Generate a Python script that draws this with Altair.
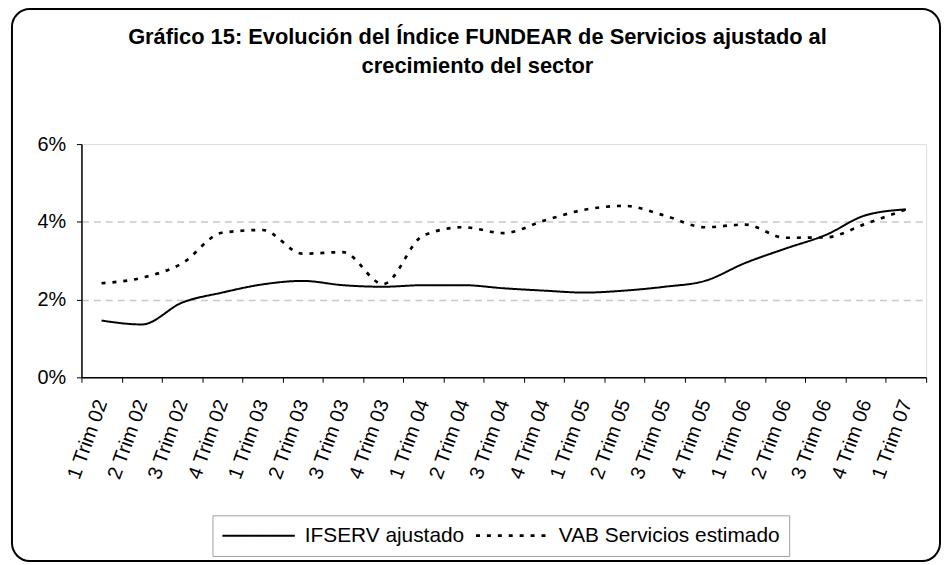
import altair as alt
import pandas as pd

categories = ["1 Trim 02", "2 Trim 02", "3 Trim 02", "4 Trim 02",
              "1 Trim 03", "2 Trim 03", "3 Trim 03", "4 Trim 03",
              "1 Trim 04", "2 Trim 04", "3 Trim 04", "4 Trim 04",
              "1 Trim 05", "2 Trim 05", "3 Trim 05", "4 Trim 05",
              "1 Trim 06", "2 Trim 06", "3 Trim 06", "4 Trim 06",
              "1 Trim 07"]
ifserv = [1.46, 1.36, 1.92, 2.18, 2.39, 2.48, 2.37, 2.33, 2.37, 2.37, 2.29,
          2.23, 2.18, 2.23, 2.33, 2.48, 2.94, 3.31, 3.66, 4.17, 4.32]
vab = [2.42, 2.56, 2.93, 3.72, 3.79, 3.18, 3.22, 2.40, 3.65, 3.86, 3.71,
       4.03, 4.31, 4.41, 4.16, 3.86, 3.93, 3.59, 3.60, 3.95, 4.32]
series_names = ["IFSERV ajustado", "VAB Servicios estimado"]
y_ticks = [0, 2, 4, 6]
title_lines = ["Gráfico 15: Evolución del Índice FUNDEAR de Servicios ajustado al",
               "crecimiento del sector"]

rows = []
for name, vals in zip(series_names, [ifserv, vab]):
    for c, v in zip(categories, vals):
        rows.append({"Trimestre": c, "Serie": name, "Valor": v})
df = pd.DataFrame(rows)

frame_df = pd.DataFrame({"f": [0]})

FONT = "Liberation Sans"

frame = alt.Chart(frame_df).mark_rect(
    filled=False, stroke="black", strokeWidth=2, cornerRadius=18
).encode(
    x=alt.value(-70), x2=alt.value(865), y=alt.value(-136), y2=alt.value(420)
)

lines = alt.Chart(df).mark_line(interpolate="monotone", color="black").encode(
    x=alt.X("Trimestre:N", sort=categories,
            scale=alt.Scale(type="band", paddingInner=0, paddingOuter=0),
            axis=alt.Axis(title=None, tickBand="extent", labelAngle=290,
                          labelAlign="right", labelBaseline="middle",
                          labelPadding=18, labelFontSize=20, labelFont=FONT,
                          labelColor="black", labelOverlap=False,
                          tickSize=5, tickColor="black", domainColor="black",
                          domainWidth=1.5, grid=False)),
    y=alt.Y("Valor:Q", scale=alt.Scale(domain=[0, 6], nice=False),
            axis=alt.Axis(title=None, values=y_ticks,
                          labelExpr="datum.value + '%'",
                          labelFontSize=20, labelFont=FONT, labelColor="black",
                          labelPadding=11, tickSize=5, tickColor="black",
                          domainColor="black", domainWidth=1.5,
                          grid=True, gridColor="#c8c8c8", gridDash=[7, 5],
                          gridWidth=1.5,
                          gridOpacity={"condition": {"test": "datum.value == 2 || datum.value == 4",
                                                     "value": 1},
                                       "value": 0})),
    strokeDash=alt.StrokeDash(
        "Serie:N",
        scale=alt.Scale(domain=series_names, range=[[1, 0], [4, 7]]),
        legend=alt.Legend(title=None, orient="none", legendX=132, legendY=374,
                          direction="horizontal", strokeColor="#a0a0a0",
                          fillColor="white", padding=9, symbolType="stroke",
                          symbolSize=5329, symbolStrokeWidth=2,
                          symbolStrokeColor="black", labelFontSize=21,
                          labelFont=FONT, labelColor="black", labelOffset=9,
                          labelLimit=500, clipHeight=23,
                          columnPadding=10)),
    strokeWidth=alt.StrokeWidth(
        "Serie:N", scale=alt.Scale(domain=series_names, range=[2, 2.7]),
        legend=None),
)

chart = alt.layer(frame, lines).properties(
    width=851, height=235,
    title=alt.TitleParams(text=title_lines, fontSize=22, font=FONT,
                          fontWeight="bold", color="black", anchor="middle",
                          frame="group", dx=-26.5, lineHeight=29, offset=-70),
    autosize=alt.AutoSizeParams(type="none"),
    padding={"left": 74, "top": 135, "right": 16, "bottom": 187},
).configure_view(stroke="#888888", strokeWidth=1.5).configure(
    font=FONT, background="white")

chart.save("out.html", embed_options={"renderer": "svg", "actions": False})
